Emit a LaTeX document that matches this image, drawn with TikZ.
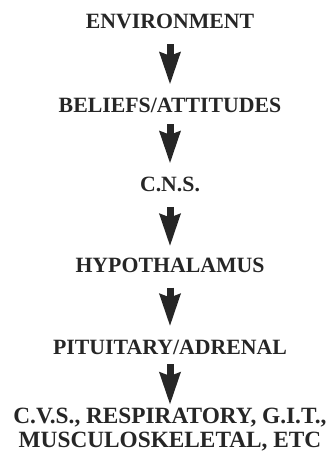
\documentclass[tikz,border=0pt]{standalone}
\usepackage{fontspec}
\setmainfont{Liberation Serif}
\usetikzlibrary{arrows.meta}
\begin{document}
\begin{tikzpicture}[x=1pt,y=-1pt,
  lbl/.style={anchor=base, inner sep=0pt, text height=15pt, text depth=0pt,
    font=\fontsize{21.8}{24}\selectfont\bfseries, text=black!85},
  lastlbl/.style={anchor=north, inner sep=0pt, align=center,
    font=\fontsize{23.3}{24}\selectfont\bfseries, text=black!85},
  bigarrow/.style={draw=black!85, line width=7pt,
    -{Stealth[length=32pt,width=20pt,inset=3pt,fill=black!85]}}]
\useasboundingbox (0,0) rectangle (330,456);
\node[lbl] (env) at (170,28.3) {ENVIRONMENT};
\node[lbl] (bel) at (170,112) {BELIEFS/ATTITUDES};
\node[lbl] (cns) at (170,191) {C.N.S.};
\node[lbl] (hyp) at (170,272) {HYPOTHALAMUS};
\node[lbl] (pit) at (170,354) {PITUITARY/ADRENAL};
\node[lastlbl] (cvs) at (170,408.3) {C.V.S., RESPIRATORY, G.I.T.,\\MUSCULOSKELETAL, ETC};
\draw[bigarrow, shorten <=15.7pt, shorten >=12pt] (env) -- (bel);
\draw[bigarrow, shorten <=12pt, shorten >=12pt] (bel) -- (cns);
\draw[bigarrow, shorten <=15.7pt, shorten >=10.3pt] (cns) -- (hyp);
\draw[bigarrow, shorten <=15.3pt, shorten >=12.3pt] (hyp) -- (pit);
\draw[bigarrow, shorten <=10pt, shorten >=3.3pt] (pit) -- (cvs);
\end{tikzpicture}
\end{document}
